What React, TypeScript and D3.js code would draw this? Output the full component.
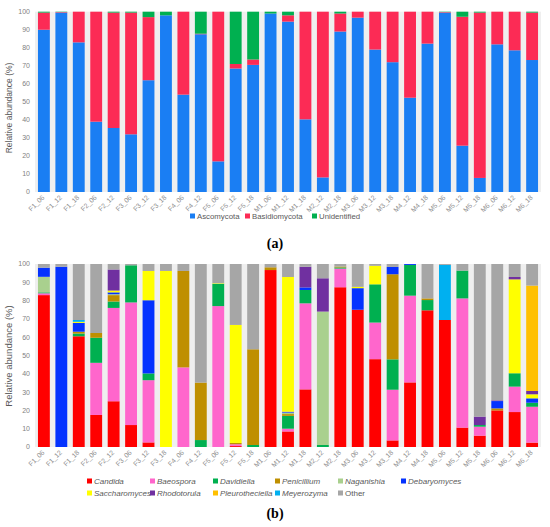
import React from "react";
import * as d3 from "d3";

const categories = ["F1_06","F1_12","F1_18","F2_06","F2_12","F3_06","F3_12","F3_18","F4_06","F4_12","F5_06","F5_12","F5_18","M1_06","M1_12","M1_18","M2_12","M2_18","M3_06","M3_12","M3_18","M4_12","M4_18","M5_06","M5_12","M5_18","M6_06","M6_12","M6_18"];

const yTicks = [0, 10, 20, 30, 40, 50, 60, 70, 80, 90, 100];

// Panel (a)
const ascomycota = [90, 99.5, 83, 39, 35.5, 32, 62, 98, 54, 87.5, 17, 68.5, 70.5, 99, 94.5, 40.3, 8.1, 89, 96.7, 79, 72, 52.3, 82.3, 99.5, 25.7, 7.8, 81.9, 78.6, 73.2];
const basidiomycota = [9.5, 0.3, 17, 61, 64, 67.5, 35, 0, 46, 0.3, 83, 2.5, 3, 0, 3.5, 59.7, 91.9, 10, 3.3, 21, 28, 47.7, 17.7, 0.3, 71.5, 91.7, 18.1, 21.4, 26.3];
const unidentified = [0.5, 0.2, 0, 0, 0.5, 0.5, 3, 2, 0, 12.2, 0, 29, 26.5, 1, 2, 0, 0, 1, 0, 0, 0, 0, 0, 0.2, 2.8, 0.5, 0, 0, 0.5];

// Panel (b)
const candida = [83, 0, 60.5, 17.5, 25, 12, 2.5, 0, 0, 0, 0, 0.5, 0, 96.7, 8.5, 31.5, 0, 87.3, 75, 48, 3.6, 35.3, 74.7, 69.4, 10.6, 6.2, 20, 19.1, 2.4];
const baeospora = [1, 0, 0, 28.5, 51, 67, 34, 0, 43.5, 0, 77, 1, 0, 0, 1.5, 47, 0, 10.2, 0, 20, 27.7, 47.4, 0, 0, 70.6, 4.9, 0, 13.9, 19.6];
const davidiella = [0.5, 0, 1.5, 13.7, 3.5, 20.3, 3.7, 0, 0, 3.8, 12.2, 0, 1.1, 0, 7, 7.3, 1.1, 0.6, 0, 20.9, 16.6, 16.8, 5.6, 0, 15.2, 0.9, 0, 7.3, 2.2];
const penicillium = [0, 0, 1, 2.6, 3.5, 0, 0, 0, 52.7, 31.4, 0, 0.7, 52.3, 1.5, 1, 0, 0, 0.5, 0, 0, 46.5, 0, 0.9, 0, 0, 0, 1.1, 0, 0];
const naganishia = [8.5, 0, 0, 0, 0.5, 0, 0, 0, 0, 0, 0, 0, 0, 0, 0.8, 0, 72.9, 0, 0, 0, 0, 0, 0, 0, 0, 0, 0, 0, 0];
const debaryomyces = [5, 98.5, 4.8, 0, 1, 0, 40, 0, 0, 0, 0, 0, 0, 0, 0.5, 1.4, 0, 0, 11.8, 0, 4, 0.5, 0, 0, 0, 0, 4, 0, 2.4];
const saccharomyces = [0, 0, 0.6, 0, 1, 0, 16, 96.2, 0, 0, 0.3, 64.5, 0, 0, 73.6, 0, 0, 0, 0.7, 10.1, 0, 0, 0, 0, 0, 0, 0, 51.3, 2.2];
const rhodotorula = [0, 0, 0, 0, 11.5, 0, 0, 0, 0, 0, 0, 0, 0, 0, 0, 11.3, 18.2, 0, 0, 0, 0, 0, 0, 0, 0, 4.6, 0.4, 1.3, 1.8];
const pleurotheciella = [0, 0, 0, 0, 0, 0, 0, 0, 0, 0, 0, 0, 0, 0, 0, 0, 0, 0, 0, 0, 0, 0, 0, 0, 0, 0, 0, 0, 57.6];
const meyerozyma = [0, 0, 1, 0, 0, 0, 0, 0, 0, 0, 0, 0, 0, 0, 0, 0, 0, 0, 0, 0, 0, 0, 0, 30.1, 0, 0, 0, 0, 0];
const other = [2, 1.5, 30.6, 37.7, 3, 0.7, 3.8, 3.8, 3.8, 64.8, 10.5, 33.3, 46.6, 1.8, 7.1, 1.5, 7.8, 1.4, 12.5, 1, 1.6, 0, 18.8, 0.5, 3.6, 83.4, 74.5, 7.1, 11.8];

type Series = { name: string; values: number[]; color: string; italic: boolean };

const seriesA: Series[] = [
  { name: "Ascomycota", values: ascomycota, color: "#1a7ef3", italic: false },
  { name: "Basidiomycota", values: basidiomycota, color: "#fc2b55", italic: false },
  { name: "Unidentified", values: unidentified, color: "#00b050", italic: false },
];

const seriesB: Series[] = [
  { name: "Candida", values: candida, color: "#ff0000", italic: true },
  { name: "Baeospora", values: baeospora, color: "#ff66cc", italic: true },
  { name: "Davidiella", values: davidiella, color: "#00b050", italic: true },
  { name: "Penicillium", values: penicillium, color: "#bf8f00", italic: true },
  { name: "Naganishia", values: naganishia, color: "#a9d08e", italic: true },
  { name: "Debaryomyces", values: debaryomyces, color: "#0432ff", italic: true },
  { name: "Saccharomyces", values: saccharomyces, color: "#ffff00", italic: true },
  { name: "Rhodotorula", values: rhodotorula, color: "#7030a0", italic: true },
  { name: "Pleurotheciella", values: pleurotheciella, color: "#ffc000", italic: true },
  { name: "Meyerozyma", values: meyerozyma, color: "#00b0f0", italic: true },
  { name: "Other", values: other, color: "#a6a6a6", italic: false },
];

const FONT = "'Liberation Sans', Arial, sans-serif";

type PanelProps = {
  series: Series[];
  top: number;
  bottom: number;
  titleY: number;
  titleSize: number;
};

function Panel({ series, top, bottom, titleY, titleSize }: PanelProps) {
  const x = d3.scaleBand<string>().domain(categories).range([35, 541]).paddingInner(0.32).paddingOuter(0.17);
  const y = d3.scaleLinear().domain([0, 100]).range([bottom, top]);
  const rows = categories.map((c, i) => {
    const r: any = { cat: c };
    series.forEach((s) => (r[s.name] = s.values[i]));
    return r;
  });
  const stack = d3.stack<any>().keys(series.map((s) => s.name))(rows);
  return (
    <g>
      <rect x={35} y={y(100)} width={506} height={y(0) - y(100)} fill="#efefef" />
      {stack.map((layer, li) => (
        <g key={li} fill={series[li].color}>
          {layer.map((d, i) =>
            d[1] - d[0] > 0 ? (
              <rect key={i} x={x(categories[i])} y={y(d[1])} width={x.bandwidth()} height={y(d[0]) - y(d[1])} />
            ) : null
          )}
        </g>
      ))}
      {yTicks.map((t) => (
        <text key={t} x={30} y={y(t)} dy="0.35em" textAnchor="end" fontSize={7} fill="#7f7f7f" fontFamily={FONT}>
          {t}
        </text>
      ))}
      <text
        transform={`translate(12,${titleY}) rotate(-90)`}
        textAnchor="middle"
        fontSize={titleSize}
        fill="#595959"
        fontFamily={FONT}
      >
        Relative abundance (%)
      </text>
      {categories.map((c) => {
        const cx = (x(c) as number) + x.bandwidth() / 2 + 1;
        const cy = bottom + 6;
        return (
          <text key={c} transform={`translate(${cx},${cy}) rotate(-45)`} textAnchor="end" fontSize={6.8} fill="#8c8c8c" fontFamily={FONT}>
            {c}
          </text>
        );
      })}
    </g>
  );
}

function Legend({ items, positions, size }: { items: Series[]; positions: [number, number][]; size: number }) {
  return (
    <g>
      {items.map((s, i) => (
        <g key={s.name} transform={`translate(${positions[i][0]},${positions[i][1]})`}>
          <rect x={-2} y={-2.5} width={5} height={5} fill={s.color} />
          <text x={5} dy="0.35em" fontSize={size} fill="#595959" fontFamily={FONT} fontStyle={s.italic ? "italic" : "normal"}>
            {s.name}
          </text>
        </g>
      ))}
    </g>
  );
}

export default function App() {
  const legA: [number, number][] = [
    [192, 216],
    [247, 216],
    [314, 216],
  ];
  const colX = [89, 152, 215, 277, 340, 403];
  const legB: [number, number][] = [
    [colX[0], 481],
    [colX[1], 481],
    [colX[2], 481],
    [colX[3], 481],
    [colX[4], 481],
    [colX[5], 481],
    [colX[0], 493],
    [colX[1], 493],
    [colX[2], 493],
    [colX[3], 493],
    [colX[4], 493],
  ];
  return (
    <svg width={550} height={527} style={{ position: "absolute", left: 0, top: 0, background: "#fff" }}>
      <Panel series={seriesA} top={11.7} bottom={192} titleY={108} titleSize={8.5} />
      <Legend items={seriesA} positions={legA} size={7.8} />
      <text x={275} y={248} textAnchor="middle" fontSize={14} fontWeight="bold" fontFamily="'Liberation Serif', serif">
        (a)
      </text>
      <Panel series={seriesB} top={264} bottom={447} titleY={356} titleSize={9.5} />
      <Legend items={seriesB} positions={legB} size={8} />
      <text x={275} y={518} textAnchor="middle" fontSize={14} fontWeight="bold" fontFamily="'Liberation Serif', serif">
        (b)
      </text>
    </svg>
  );
}
